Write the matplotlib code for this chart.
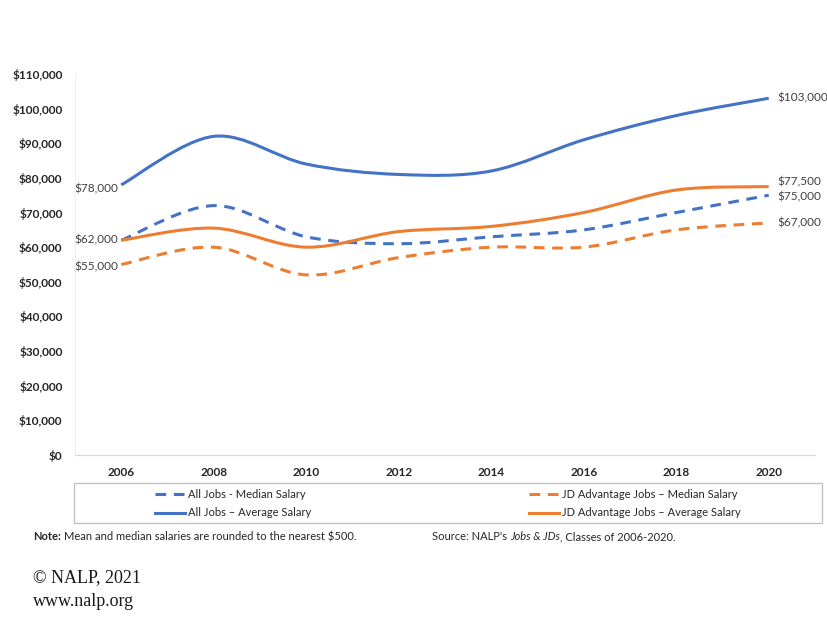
import numpy as np
import matplotlib
matplotlib.use('Agg')
import matplotlib.pyplot as plt
from matplotlib.path import Path
from matplotlib.patches import PathPatch, Rectangle
from matplotlib.lines import Line2D
from matplotlib.ticker import FuncFormatter

plt.rcParams['font.family'] = ['Lato', 'DejaVu Sans']

years = ['2006', '2008', '2010', '2012', '2014', '2016', '2018', '2020']
all_median = [62000, 72000, 63000, 61000, 63000, 65000, 70000, 75000]
all_avg = [78000, 92000, 84000, 81000, 82000, 91000, 98000, 103000]
jd_median = [55000, 60000, 52000, 57000, 60000, 60000, 65000, 67000]
jd_avg = [62000, 65500, 60000, 64500, 66000, 70000, 76500, 77500]

BLUE = '#4472C4'
ORANGE = '#ED7D31'
TXT = '#404040'

W, H = 827, 625


def fx(px):
    return px / W


def fy(py):
    return 1 - py / H


# smooth line like excel (bezier through the points)
def smooth_path(xs, ys):
    pts = np.column_stack([xs, ys]).astype(float)
    n = len(pts)
    verts = [pts[0]]
    codes = [Path.MOVETO]
    for i in range(n - 1):
        p0 = pts[max(i - 1, 0)]
        p1 = pts[i]
        p2 = pts[i + 1]
        p3 = pts[min(i + 2, n - 1)]
        c1 = p1 + (p2 - p0) / 6
        c2 = p2 - (p3 - p1) / 6
        verts += [c1, c2, p2]
        codes += [Path.CURVE4] * 3
    return Path(verts, codes)


fig = plt.figure(figsize=(8.27, 6.25), dpi=100)
ax = fig.add_axes([fx(75), fy(455), fx(815) - fx(75), (455 - 74) / H])

x = np.arange(len(years))
series = [
    (all_median, BLUE, 'dash'),
    (jd_median, ORANGE, 'dash'),
    (all_avg, BLUE, 'solid'),
    (jd_avg, ORANGE, 'solid'),
]
for vals, col, st in series:
    ls = (0, (3.5, 2.5)) if st == 'dash' else '-'
    patch = PathPatch(smooth_path(x, vals), fill=False, edgecolor=col,
                      lw=2.2, linestyle=ls, capstyle='butt', joinstyle='round')
    ax.add_patch(patch)

ax.set_xlim(-0.5, len(years) - 0.5)
ax.set_ylim(0, 110000)
ax.set_yticks(np.arange(0, 110001, 10000))
ax.yaxis.set_major_formatter(FuncFormatter(lambda v, p: '${:,.0f}'.format(v)))
ax.set_xticks(x)
ax.set_xticklabels(years)
ax.tick_params(length=0, labelsize=8.5, labelcolor='#262626')
ax.tick_params(axis='x', pad=9)
ax.tick_params(axis='y', pad=9)
for lab in ax.get_xticklabels() + ax.get_yticklabels():
    lab.set_fontweight('bold')
for s in ['top', 'right']:
    ax.spines[s].set_visible(False)
ax.spines['bottom'].set_color('#D9D9D9')
ax.spines['left'].set_color('#F0F0F0')

# data labels at both ends
lab_kw = dict(fontsize=8.5, color=TXT, va='center')
for vals, dy in [(all_avg, -3), (all_median, 0), (jd_median, -2)]:
    ax.annotate('${:,.0f}'.format(vals[0]), (x[0], vals[0]), xytext=(-2, dy),
                textcoords='offset points', ha='right', **lab_kw)
for vals, dy in [(all_avg, 0), (jd_avg, 3.5), (all_median, -1.5), (jd_median, 0)]:
    ax.annotate('${:,.0f}'.format(vals[-1]), (x[-1], vals[-1]), xytext=(6, dy),
                textcoords='offset points', ha='left', **lab_kw)

# legend box
fig.add_artist(Rectangle((fx(74), fy(523)), fx(822) - fx(74), 40 / H,
                         transform=fig.transFigure, fill=False,
                         edgecolor='#BFBFBF', lw=0.9))
leg_items = [
    ('All Jobs - Median Salary', BLUE, 'dash', 155, 494),
    ('All Jobs \u2013 Average Salary', BLUE, 'solid', 155, 513),
    ('JD Advantage Jobs \u2013 Median Salary', ORANGE, 'dash', 529, 494),
    ('JD Advantage Jobs \u2013 Average Salary', ORANGE, 'solid', 529, 513),
]
for name, col, st, px, py in leg_items:
    ls = (0, (3.5, 2.5)) if st == 'dash' else '-'
    fig.add_artist(Line2D([fx(px), fx(px + 30)], [fy(py), fy(py)],
                          transform=fig.transFigure, color=col, lw=2.2,
                          linestyle=ls, dash_capstyle='butt'))
    fig.text(fx(px + 33), fy(py), name, fontsize=8, color='#262626',
             va='center', ha='left')

# notes
t = fig.text(fx(33), fy(537), 'Note:', fontsize=8, weight='bold',
             color='#262626', va='center')
ax.annotate('Mean and median salaries are rounded to the nearest $500.',
            xy=(1, 0.5), xycoords=t, xytext=(2.5, 0), textcoords='offset points',
            fontsize=8, color='#262626', va='center', ha='left')
s1 = fig.text(fx(432), fy(537), "Source: NALP's", fontsize=8,
              color='#262626', va='center')
s2 = ax.annotate('Jobs & JDs', xy=(1, 0.5), xycoords=s1, xytext=(2.5, 0),
                 textcoords='offset points', fontsize=8, style='italic',
                 color='#262626', va='center', ha='left')
ax.annotate(', Classes of 2006-2020.', xy=(1, 0.5), xycoords=s2,
            fontsize=8, color='#262626', va='center', ha='left')

# footer
fig.text(fx(33), fy(578), '\u00a9 NALP, 2021', fontsize=13,
         family='Liberation Serif', color='#1a1a1a', va='center')
fig.text(fx(33), fy(601), 'www.nalp.org', fontsize=13,
         family='Liberation Serif', color='#1a1a1a', va='center')

fig.savefig('out.png', dpi=100)
